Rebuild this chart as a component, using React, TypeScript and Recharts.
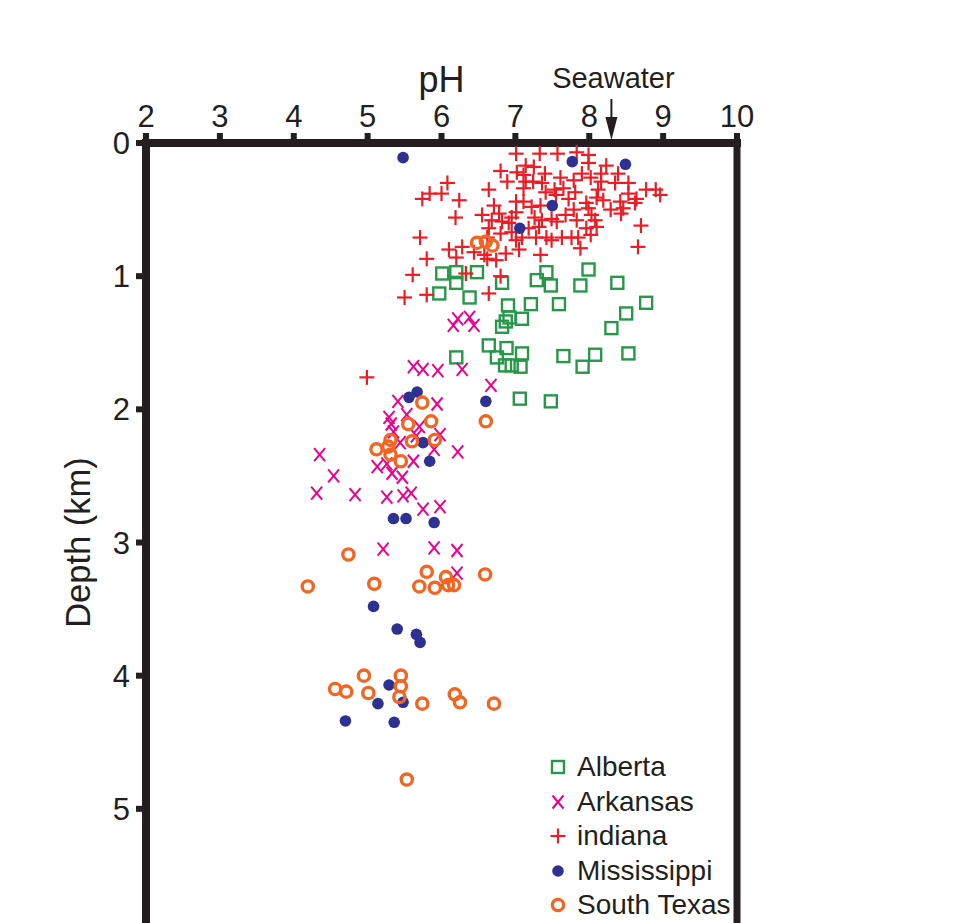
import { ScatterChart, Scatter, XAxis, YAxis, ReferenceLine, ReferenceDot, Legend } from "recharts"

// [pH, depth km]
const alberta: [number, number][] = [
  [6.01, 0.98], [6.2, 0.97], [6.48, 0.97], [6.2, 1.05], [5.97, 1.13], [6.38, 1.16], [6.82, 1.05],
  [7.29, 1.03], [7.42, 0.97], [7.48, 1.07], [7.99, 0.95], [7.88, 1.07], [8.38, 1.05], [8.77, 1.2],
  [8.5, 1.28], [8.3, 1.39], [6.9, 1.22], [7.21, 1.21], [7.59, 1.21], [6.92, 1.31], [7.09, 1.32],
  [6.87, 1.34], [6.82, 1.38], [6.64, 1.52], [6.88, 1.54], [7.09, 1.58], [6.75, 1.61], [6.86, 1.67],
  [6.95, 1.67], [7.07, 1.68], [6.2, 1.61], [7.65, 1.6], [8.08, 1.59], [7.91, 1.68], [8.53, 1.58],
  [7.06, 1.92], [7.48, 1.94],
]

const arkansas: [number, number][] = [
  [6.16, 1.37], [6.22, 1.32], [6.38, 1.31], [6.44, 1.37], [5.62, 1.68], [5.75, 1.7], [5.95, 1.71],
  [6.28, 1.7], [6.67, 1.82], [5.41, 1.94], [5.94, 1.96], [5.29, 2.06], [5.53, 2.04], [5.32, 2.11],
  [5.7, 2.13], [5.35, 2.17], [5.98, 2.19], [5.44, 2.25], [5.66, 2.2], [5.9, 2.3], [6.22, 2.32],
  [4.35, 2.34], [4.54, 2.5], [5.13, 2.43], [5.26, 2.41], [5.33, 2.48], [5.47, 2.51], [5.62, 2.39],
  [4.31, 2.63], [4.83, 2.64], [5.26, 2.66], [5.48, 2.65], [5.59, 2.63], [5.75, 2.75], [5.98, 2.73],
  [5.21, 3.05], [5.9, 3.04], [6.21, 3.06], [6.21, 3.23],
]

const indiana: [number, number][] = [
  [7.01, 0.08], [7.33, 0.08], [7.57, 0.08], [6.8, 0.21], [7.02, 0.22], [7.14, 0.17], [7.25, 0.18],
  [7.11, 0.24], [7.4, 0.23], [6.89, 0.29], [7.14, 0.29], [7.24, 0.29], [7.36, 0.3], [6.08, 0.3],
  [5.84, 0.38], [6.0, 0.38], [5.74, 0.42], [6.24, 0.43], [6.64, 0.35], [7.11, 0.34], [7.41, 0.37],
  [7.53, 0.35], [7.01, 0.44], [7.11, 0.44], [6.71, 0.47], [7.22, 0.48], [7.34, 0.47], [6.55, 0.54],
  [6.78, 0.53], [7.01, 0.52], [6.19, 0.56], [6.82, 0.59], [6.68, 0.58], [6.95, 0.56], [7.26, 0.56],
  [7.36, 0.58], [7.49, 0.57], [6.64, 0.64], [6.91, 0.6], [7.18, 0.64], [7.32, 0.63], [5.71, 0.71],
  [6.62, 0.71], [6.8, 0.68], [6.95, 0.67], [7.09, 0.71], [7.28, 0.71], [7.42, 0.71], [6.28, 0.78],
  [6.1, 0.8], [6.44, 0.82], [6.58, 0.84], [6.87, 0.83], [7.05, 0.8], [7.34, 0.84], [7.01, 0.73],
  [6.2, 0.86], [5.8, 0.87], [6.62, 0.87], [6.74, 0.88], [5.61, 0.99], [6.33, 0.98], [6.8, 1.0],
  [5.8, 1.14], [6.64, 1.13], [5.5, 1.16],
  [7.83, 0.07], [7.99, 0.09], [7.99, 0.15], [8.23, 0.17], [8.39, 0.23], [8.16, 0.23], [7.9, 0.23],
  [7.61, 0.26], [7.79, 0.28], [8.02, 0.26], [8.16, 0.29], [8.35, 0.3], [8.53, 0.3], [7.65, 0.34],
  [7.81, 0.37], [8.12, 0.35], [7.55, 0.39], [7.72, 0.42], [8.1, 0.41], [8.53, 0.38], [8.77, 0.35],
  [8.9, 0.35], [8.96, 0.39], [8.64, 0.42], [7.96, 0.45], [8.19, 0.43], [8.42, 0.44], [7.79, 0.5],
  [7.99, 0.49], [8.29, 0.5], [8.46, 0.49], [8.62, 0.45], [7.68, 0.54], [8.03, 0.54], [7.83, 0.58],
  [8.08, 0.58], [8.43, 0.53], [7.56, 0.59], [8.1, 0.63], [7.96, 0.64], [8.7, 0.62], [7.49, 0.73],
  [7.63, 0.71], [7.76, 0.71], [7.85, 0.71], [8.02, 0.69], [7.88, 0.79], [8.66, 0.78], [4.99, 1.76],
]

const mississippi: [number, number][] = [
  [5.48, 0.11], [7.77, 0.14], [8.49, 0.16], [7.5, 0.47], [7.06, 0.64], [5.56, 1.91], [5.67, 1.87],
  [6.6, 1.94], [5.75, 2.25], [5.84, 2.39], [5.35, 2.82], [5.52, 2.82], [5.9, 2.85], [5.08, 3.48],
  [5.4, 3.65], [5.66, 3.69], [5.71, 3.75], [5.29, 4.07], [5.14, 4.21], [5.48, 4.2], [4.7, 4.34],
  [5.36, 4.35],
]

const southTexas: [number, number][] = [
  [6.48, 0.75], [6.6, 0.74], [6.69, 0.77], [5.74, 1.95], [5.55, 2.11], [5.86, 2.09], [5.31, 2.23],
  [5.6, 2.24], [5.91, 2.23], [5.12, 2.3], [5.28, 2.28], [5.31, 2.34], [5.45, 2.39], [6.6, 2.09],
  [4.74, 3.09], [4.19, 3.33], [5.09, 3.31], [5.8, 3.22], [5.7, 3.33], [5.91, 3.34], [6.06, 3.26],
  [6.09, 3.32], [6.17, 3.32], [6.59, 3.24], [4.95, 4.0], [4.56, 4.1], [4.71, 4.12], [5.01, 4.13],
  [5.45, 4.0], [5.45, 4.08], [5.43, 4.16], [5.74, 4.21], [6.18, 4.14], [6.25, 4.2], [6.71, 4.21],
  [5.53, 4.78],
]

const phTicks = [2, 3, 4, 5, 6, 7, 8, 9, 10]
const depthTicks = [0, 1, 2, 3, 4, 5]
const SEAWATER_PH = 8.3

const AXIS = "#231f20"
const FONT = "'Liberation Sans', Arial, Helvetica, sans-serif"
const GREEN = "#27974a"
const MAGENTA = "#ec008c"
const RED = "#ed1c24"
const BLUE = "#2e3192"
const ORANGE = "#f26522"

const toPts = (arr: [number, number][]) => arr.map(([ph, depth]) => ({ ph, depth }))

const Square = ({ cx, cy }: any) => (
  <rect x={cx - 6} y={cy - 6} width={12} height={12} fill="none" stroke={GREEN} strokeWidth={2.4} />
)
const Cross = ({ cx, cy }: any) => (
  <g stroke={MAGENTA} strokeWidth={2}>
    <line x1={cx - 5.5} y1={cy - 6.5} x2={cx + 5.5} y2={cy + 6.5} />
    <line x1={cx + 5.5} y1={cy - 6.5} x2={cx - 5.5} y2={cy + 6.5} />
  </g>
)
const Plus = ({ cx, cy }: any) => (
  <g stroke={RED} strokeWidth={2.2}>
    <line x1={cx - 7.5} y1={cy} x2={cx + 7.5} y2={cy} />
    <line x1={cx} y1={cy - 7.5} x2={cx} y2={cy + 7.5} />
  </g>
)
const Dot = ({ cx, cy }: any) => <circle cx={cx} cy={cy} r={5.8} fill={BLUE} />
const Ring = ({ cx, cy }: any) => (
  <circle cx={cx} cy={cy} r={5.6} fill="none" stroke={ORANGE} strokeWidth={3.4} />
)

const SERIES = [
  { name: "Alberta", data: alberta, shape: Square },
  { name: "Arkansas", data: arkansas, shape: Cross },
  { name: "indiana", data: indiana, shape: Plus },
  { name: "Mississippi", data: mississippi, shape: Dot },
  { name: "South Texas", data: southTexas, shape: Ring },
]

const SeawaterMark = ({ cx, cy }: any) => (
  <g>
    <text x={cx + 2} y={cy - 55} textAnchor="middle" fontSize={29} fill={AXIS} fontFamily={FONT}>
      Seawater
    </text>
    <line x1={cx} y1={cy - 44} x2={cx} y2={cy - 24} stroke={AXIS} strokeWidth={2} />
    <polygon points={`${cx - 6},${cy - 26} ${cx + 6},${cy - 26} ${cx},${cy - 3}`} fill={AXIS} />
  </g>
)

const LegendBox = () => (
  <div style={{ fontFamily: FONT, fontSize: 28, color: AXIS }}>
    {SERIES.map((s) => {
      const Shape = s.shape
      return (
        <div key={s.name} style={{ display: "flex", alignItems: "center", height: 34.5 }}>
          <svg width={20} height={20} style={{ marginRight: 9, overflow: "visible" }}>
            <Shape cx={10} cy={10} />
          </svg>
          <span>{s.name}</span>
        </div>
      )
    })}
  </div>
)

export default function App() {
  return (
    <div style={{ width: 960, height: 915, overflow: "hidden" }}>
      <ScatterChart width={960} height={1000} margin={{ top: 85, right: 231, bottom: 66, left: 0 }}>
        <XAxis
          type="number"
          dataKey="ph"
          orientation="top"
          domain={[2, 10]}
          ticks={phTicks}
          height={50}
          axisLine={{ stroke: AXIS, strokeWidth: 8, strokeLinecap: "square" }}
          tickLine={{ stroke: AXIS, strokeWidth: 6 }}
          tickSize={10}
          tickMargin={6}
          tick={{ fill: AXIS, fontSize: 31, fontFamily: FONT }}
          label={{ value: "pH", position: "top", offset: 1, fontSize: 36, fill: AXIS, fontFamily: FONT }}
        />
        <YAxis
          type="number"
          dataKey="depth"
          reversed
          domain={[0, 6]}
          ticks={depthTicks}
          width={138}
          axisLine={{ stroke: AXIS, strokeWidth: 8, strokeLinecap: "square" }}
          tickLine={{ stroke: AXIS, strokeWidth: 6 }}
          tickSize={10}
          tickMargin={6}
          tick={{ fill: AXIS, fontSize: 31, fontFamily: FONT }}
          label={{
            value: "Depth (km)",
            angle: -90,
            position: "insideLeft",
            offset: 70,
            fontSize: 34.5,
            fill: AXIS,
            fontFamily: FONT,
            style: { textAnchor: "middle" },
          }}
        />
        <ReferenceLine x={10} stroke={AXIS} strokeWidth={7} />
        <ReferenceDot x={SEAWATER_PH} y={0} ifOverflow="visible" shape={SeawaterMark} />
        {SERIES.map((s) => (
          <Scatter
            key={s.name}
            name={s.name}
            data={toPts(s.data)}
            shape={s.shape}
            isAnimationActive={false}
          />
        ))}
        <Legend
          layout="vertical"
          align="center"
          verticalAlign="middle"
          content={LegendBox}
          wrapperStyle={{ left: 540, top: 742, width: 220, height: 180 }}
        />
      </ScatterChart>
    </div>
  )
}
